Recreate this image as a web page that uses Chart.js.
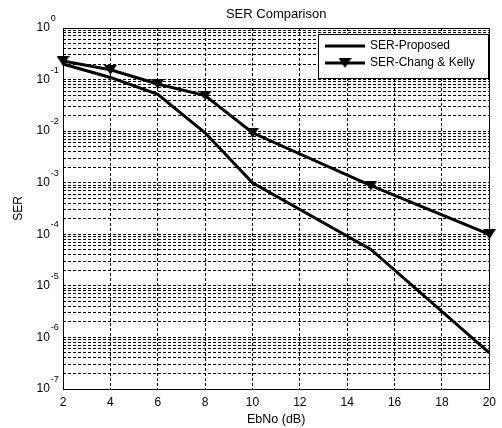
<!DOCTYPE html>
<html>
<head>
<meta charset="utf-8">
<script src="https://cdn.jsdelivr.net/npm/chart.js@4/dist/chart.umd.min.js"></script>
<style>
  html, body { margin: 0; padding: 0; background: #fff; }
  #wrap { width: 502px; height: 428px; }
</style>
</head>
<body>
<div id="wrap"><canvas id="serChart" width="502" height="428"></canvas></div>
<script>
const ebno = [2, 4, 6, 8, 10, 15, 20];
const serProposed = [0.2, 0.11, 0.052, 0.0093, 0.001, 5.1e-5, 5e-7];
const serChangKelly = [0.23, 0.155, 0.082, 0.049, 0.0093, 0.00088, 0.0001];
const xTicks = [2, 4, 6, 8, 10, 12, 14, 16, 18, 20];
const yDecades = [-7, -6, -5, -4, -3, -2, -1, 0];
const seriesNames = ['SER-Proposed', 'SER-Chang & Kelly'];

const FONT = '"Liberation Sans", Arial, Helvetica, sans-serif';

// downward triangle marker like matlab 'v'
const tri = document.createElement('canvas');
tri.width = 13;
tri.height = 10;
const tctx = tri.getContext('2d');
tctx.fillStyle = '#000';
tctx.beginPath();
tctx.moveTo(0, 0);
tctx.lineTo(13, 0);
tctx.lineTo(6.5, 10);
tctx.closePath();
tctx.fill();

function toPoints(xs, ys) {
    return xs.map((x, i) => ({ x: x, y: ys[i] }));
}

const matlabBits = {
    id: 'matlabBits',
    afterDraw(chart) {
        const ctx = chart.ctx;
        const area = chart.chartArea;
        const yScale = chart.scales.y;
        ctx.save();

        // axes box
        ctx.strokeStyle = '#000';
        ctx.lineWidth = 1;
        ctx.setLineDash([]);
        ctx.strokeRect(Math.round(area.left) + 0.5, Math.round(area.top) + 0.5,
            Math.round(area.right - area.left), Math.round(area.bottom - area.top));

        // y tick labels 10^k
        ctx.fillStyle = '#000';
        ctx.textAlign = 'left';
        ctx.textBaseline = 'middle';
        yDecades.forEach(k => {
            const py = yScale.getPixelForValue(Math.pow(10, k));
            ctx.font = '12px ' + FONT;
            ctx.fillText('10', 36.5, py);
            const w = ctx.measureText('10').width;
            ctx.font = '9px ' + FONT;
            ctx.fillText(String(k), 36.5 + w + 1, py - 9.5);
        });

        // title and axis labels
        ctx.textAlign = 'center';
        ctx.font = '13px ' + FONT;
        ctx.fillText('SER Comparison', (area.left + area.right) / 2, 14);
        ctx.font = '12.5px ' + FONT;
        ctx.fillText('EbNo (dB)', (area.left + area.right) / 2, 420);
        ctx.save();
        ctx.translate(19, (area.top + area.bottom) / 2);
        ctx.rotate(-Math.PI / 2);
        ctx.font = '12px ' + FONT;
        ctx.fillText('SER', 0, 0);
        ctx.restore();

        // legend
        ctx.fillStyle = '#fff';
        ctx.fillRect(318, 34, 170, 44);
        ctx.strokeStyle = '#000';
        ctx.lineWidth = 1;
        ctx.strokeRect(318.5, 34.5, 170, 44);
        const rows = [46, 63];
        rows.forEach((ry, i) => {
            ctx.strokeStyle = '#000';
            ctx.lineWidth = 3;
            ctx.beginPath();
            ctx.moveTo(325, ry);
            ctx.lineTo(365, ry);
            ctx.stroke();
            if (i === 1) {
                ctx.drawImage(tri, 345 - tri.width / 2, ry - tri.height / 2);
            }
            ctx.fillStyle = '#000';
            ctx.font = '12px ' + FONT;
            ctx.textAlign = 'left';
            ctx.textBaseline = 'middle';
            ctx.fillText(seriesNames[i], 370, ry);
        });
        ctx.restore();
    }
};

new Chart(document.getElementById('serChart').getContext('2d'), {
    type: 'line',
    data: {
        datasets: [{
            label: seriesNames[0],
            data: toPoints(ebno, serProposed),
            borderColor: '#000',
            backgroundColor: '#000',
            borderWidth: 3,
            pointRadius: 0,
            pointHoverRadius: 0,
            tension: 0,
            clip: false
        }, {
            label: seriesNames[1],
            data: toPoints(ebno, serChangKelly),
            borderColor: '#000',
            backgroundColor: '#000',
            borderWidth: 3,
            pointStyle: tri,
            pointRadius: 6,
            tension: 0,
            clip: false
        }]
    },
    options: {
        responsive: false,
        animation: false,
        events: [],
        layout: {
            padding: { top: 28, right: 10, left: 0, bottom: 0 }
        },
        plugins: {
            legend: { display: false },
            title: { display: false },
            tooltip: { enabled: false }
        },
        scales: {
            x: {
                type: 'linear',
                min: 2,
                max: 20,
                afterBuildTicks: scale => {
                    scale.ticks = xTicks.map(v => ({ value: v }));
                },
                afterFit: scale => { scale.height = 39; },
                ticks: {
                    color: '#000',
                    font: { family: FONT, size: 12 },
                    padding: 6,
                    maxRotation: 0,
                    autoSkip: false
                },
                grid: {
                    color: '#000',
                    lineWidth: 1,
                    drawTicks: false
                },
                border: { display: false, dash: [3, 2] }
            },
            y: {
                type: 'logarithmic',
                min: 1e-7,
                max: 1,
                afterBuildTicks: scale => {
                    const t = [];
                    yDecades.forEach(k => {
                        for (let m = 1; m <= 9; m++) {
                            if (k === 0 && m > 1) break;
                            t.push({ value: m * Math.pow(10, k) });
                        }
                    });
                    scale.ticks = t;
                },
                afterFit: scale => { scale.width = 63; },
                ticks: { display: false },
                grid: {
                    color: '#000',
                    lineWidth: 1,
                    drawTicks: false
                },
                border: { display: false, dash: [3, 2] }
            }
        }
    },
    plugins: [matlabBits]
});
</script>
</body>
</html>
